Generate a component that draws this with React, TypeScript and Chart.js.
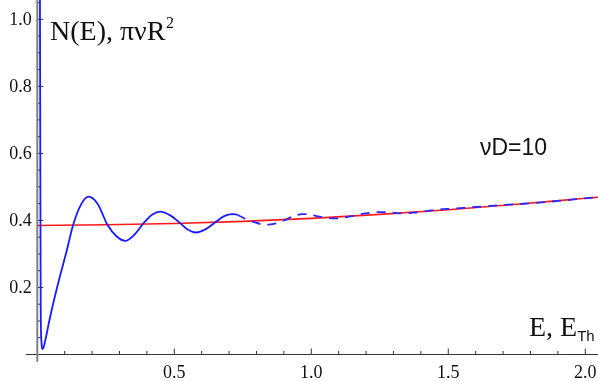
import React, { useEffect, useRef } from "react";
import { Chart, registerables } from "chart.js";
Chart.register(...registerables);

// Blue curve N(E): solid part
const blueSolidX = [0.0095, 0.011, 0.0125, 0.015, 0.0198, 0.03, 0.045, 0.072, 0.108, 0.131, 0.16, 0.187, 0.22, 0.256, 0.29, 0.321, 0.355, 0.388, 0.42, 0.449, 0.485, 0.52, 0.55, 0.58, 0.615, 0.651, 0.68, 0.712, 0.73];
const blueSolidY = [1.15, 0.6, 0.15, 0.04, 0.016, 0.045, 0.105, 0.199, 0.312, 0.387, 0.448, 0.471, 0.45, 0.387, 0.352, 0.339, 0.358, 0.392, 0.418, 0.426, 0.415, 0.393, 0.372, 0.364, 0.374, 0.395, 0.412, 0.419, 0.417];
// Blue curve: dashed part
const blueDashX = [0.73, 0.761, 0.791, 0.816, 0.834, 0.852, 0.88, 0.911, 0.935, 0.968, 1.0, 1.029, 1.06, 1.09, 1.121, 1.158, 1.182, 1.219, 1.25, 1.28, 1.31, 1.341, 1.37, 1.4, 1.43, 1.46, 1.51, 1.6, 1.7, 1.8, 1.9, 2.0, 2.06];
const blueDashY = [0.417, 0.404, 0.395, 0.389, 0.387, 0.388, 0.393, 0.404, 0.413, 0.419, 0.417, 0.411, 0.407, 0.406, 0.409, 0.415, 0.419, 0.423, 0.425, 0.424, 0.422, 0.421, 0.423, 0.425, 0.429, 0.432, 0.435, 0.44, 0.446, 0.451, 0.458, 0.466, 0.47];
// Red curve πνR²
const redX = [0, 0.25, 0.5, 0.75, 1.0, 1.25, 1.5, 1.75, 2.0, 2.06];
const redY = [0.385, 0.387, 0.391, 0.397, 0.406, 0.418, 0.432, 0.448, 0.466, 0.47];

const xMajorTicks = [0.5, 1.0, 1.5, 2.0];
const xTickLabels = ["0.5", "1.0", "1.5", "2.0"];
const xMinorTicks = [0.1, 0.2, 0.3, 0.4, 0.6, 0.7, 0.8, 0.9, 1.1, 1.2, 1.3, 1.4, 1.6, 1.7, 1.8, 1.9];
const yMajorTicks = [0.2, 0.4, 0.6, 0.8, 1.0];
const yTickLabels = ["0.2", "0.4", "0.6", "0.8", "1.0"];
const yMinorTicks = [0.05, 0.1, 0.15, 0.25, 0.3, 0.35, 0.45, 0.5, 0.55, 0.65, 0.7, 0.75, 0.85, 0.9, 0.95, 1.05];

const yAxisTitle = "N(E), πνR";
const yAxisTitleSup = "2";
const annotation = "νD=10";
const xAxisTitle = "E, E";
const xAxisTitleSub = "Th";

const toPts = (xs: number[], ys: number[]) => xs.map((x, i) => ({ x, y: ys[i] }));

const axesPlugin = {
  id: "mathAxes",
  beforeDatasetsDraw(chart: any) {
    const { ctx } = chart;
    const xs = chart.scales.x;
    const ys = chart.scales.y;
    const x0 = xs.getPixelForValue(0);
    const y0 = ys.getPixelForValue(0);
    ctx.save();
    // x axis
    ctx.strokeStyle = "#333";
    ctx.lineWidth = 1;
    ctx.beginPath();
    ctx.moveTo(xs.getPixelForValue(-0.042), y0);
    ctx.lineTo(chart.width, y0);
    ctx.stroke();
    // x ticks
    ctx.beginPath();
    xMajorTicks.forEach((v) => {
      const p = xs.getPixelForValue(v);
      ctx.moveTo(p, y0);
      ctx.lineTo(p, y0 - 6);
    });
    xMinorTicks.forEach((v) => {
      const p = xs.getPixelForValue(v);
      ctx.moveTo(p, y0);
      ctx.lineTo(p, y0 - 3.5);
    });
    // y ticks
    yMajorTicks.forEach((v) => {
      const p = ys.getPixelForValue(v);
      ctx.moveTo(x0, p);
      ctx.lineTo(x0 + 6, p);
    });
    yMinorTicks.forEach((v) => {
      const p = ys.getPixelForValue(v);
      ctx.moveTo(x0, p);
      ctx.lineTo(x0 + 3.5, p);
    });
    ctx.stroke();
    // y axis
    ctx.strokeStyle = "#808080";
    ctx.lineWidth = 2;
    ctx.beginPath();
    ctx.moveTo(x0, ys.getPixelForValue(-0.0215));
    ctx.lineTo(x0, 0);
    ctx.stroke();
    // tick labels
    ctx.fillStyle = "#111";
    ctx.font = "18px 'Liberation Serif', 'Times New Roman', serif";
    ctx.textAlign = "right";
    ctx.textBaseline = "middle";
    yMajorTicks.forEach((v, i) => {
      ctx.fillText(yTickLabels[i], x0 - 5.5, ys.getPixelForValue(v) + 0.5);
    });
    ctx.textAlign = "center";
    ctx.textBaseline = "alphabetic";
    xMajorTicks.forEach((v, i) => {
      ctx.fillText(xTickLabels[i], xs.getPixelForValue(v), y0 + 24);
    });
    ctx.restore();
  },
  afterDraw(chart: any) {
    const { ctx } = chart;
    ctx.save();
    ctx.fillStyle = "#111";
    ctx.textAlign = "left";
    ctx.textBaseline = "alphabetic";
    // y axis title
    ctx.font = "28px 'Liberation Serif', 'Times New Roman', serif";
    ctx.fillText(yAxisTitle, 50, 40);
    const w1 = ctx.measureText(yAxisTitle).width;
    ctx.font = "16px 'Liberation Serif', 'Times New Roman', serif";
    ctx.fillText(yAxisTitleSup, 50 + w1 + 0.5, 28);
    // annotation
    ctx.font = "23px 'Liberation Sans', Arial, sans-serif";
    ctx.fillText(annotation, 480, 155);
    // x axis title
    ctx.font = "28px 'Liberation Serif', 'Times New Roman', serif";
    ctx.fillText(xAxisTitle, 529, 336);
    const w2 = ctx.measureText(xAxisTitle).width;
    ctx.font = "15px 'Liberation Sans', Arial, sans-serif";
    ctx.fillText(xAxisTitleSub, 529 + w2, 341);
    ctx.restore();
  },
};

export default function App() {
  const ref = useRef<HTMLCanvasElement | null>(null);
  useEffect(() => {
    document.body.style.margin = "0";
    const canvas = ref.current;
    if (!canvas) return;
    const chart = new Chart(canvas, {
      type: "scatter",
      data: {
        datasets: [
          {
            data: toPts(blueSolidX, blueSolidY),
            showLine: true,
            borderColor: "#1a1aff",
            borderWidth: 1.8,
            pointRadius: 0,
            cubicInterpolationMode: "monotone",
            fill: false,
          },
          {
            data: toPts(blueDashX, blueDashY),
            showLine: true,
            borderColor: "#2a2aff",
            borderWidth: 1.8,
            borderDash: [9, 7],
            pointRadius: 0,
            cubicInterpolationMode: "monotone",
            fill: false,
          },
          {
            data: toPts(redX, redY),
            showLine: true,
            borderColor: "#ff1a1a",
            borderWidth: 1.6,
            pointRadius: 0,
            cubicInterpolationMode: "monotone",
            fill: false,
          },
        ],
      } as any,
      options: {
        animation: false,
        responsive: false,
        maintainAspectRatio: false,
        layout: { padding: 0 },
        plugins: { legend: { display: false }, tooltip: { enabled: false } },
        scales: {
          x: { type: "linear", min: -0.1361, max: 2.0464, display: false },
          y: { type: "linear", min: -0.0791, max: 1.0576, display: false },
        },
      } as any,
      plugins: [axesPlugin],
    });
    return () => chart.destroy();
  }, []);
  return (
    <div style={{ width: 598, height: 381, background: "#fff" }}>
      <canvas ref={ref} width={598} height={381} style={{ display: "block" }} />
    </div>
  );
}
